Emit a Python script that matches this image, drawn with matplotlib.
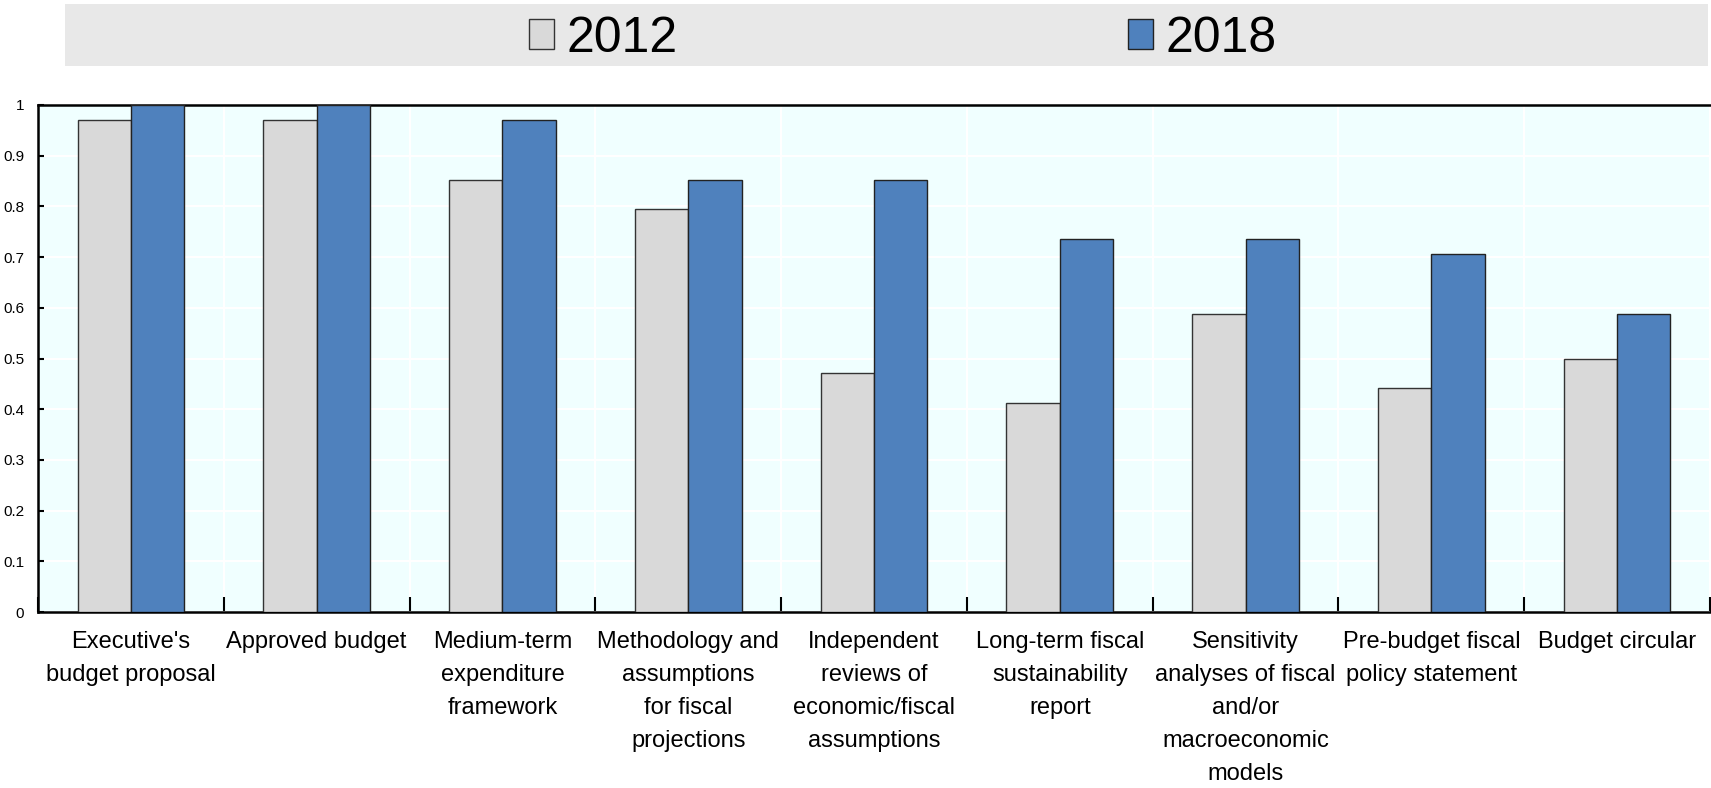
import matplotlib.pyplot as plt
import numpy as np
from matplotlib.patches import Rectangle

categories = ["Executive's\nbudget proposal", "Approved budget",
              "Medium-term\nexpenditure\nframework",
              "Methodology and\nassumptions\nfor fiscal\nprojections",
              "Independent\nreviews of\neconomic/fiscal\nassumptions",
              "Long-term fiscal\nsustainability\nreport",
              "Sensitivity\nanalyses of fiscal\nand/or\nmacroeconomic\nmodels",
              "Pre-budget fiscal\npolicy statement", "Budget circular"]
values_2012 = [0.97, 0.97, 0.853, 0.794, 0.471, 0.412, 0.588, 0.441, 0.5]
values_2018 = [1.0, 1.0, 0.97, 0.853, 0.853, 0.735, 0.735, 0.706, 0.588]
yticks = [0, 0.1, 0.2, 0.3, 0.4, 0.5, 0.6, 0.7, 0.8, 0.9, 1]
ytick_labels = ['0', '0.1', '0.2', '0.3', '0.4', '0.5', '0.6', '0.7', '0.8', '0.9', '1']

plt.rcParams['font.family'] = ['Liberation Sans', 'DejaVu Sans']

W, H = 1711, 788
fig = plt.figure(figsize=(W / 100, H / 100), dpi=100)
ax = fig.add_axes([38 / W, 1 - 612 / H, 1672 / W, 507 / H])
ax.set_facecolor('#F0FFFF')

x = np.arange(len(categories))
bw = 0.287
ax.bar(x - bw / 2, values_2012, bw, color='#D9D9D9', edgecolor='#333333', linewidth=1, label='2012', zorder=3)
ax.bar(x + bw / 2, values_2018, bw, color='#4F81BD', edgecolor='#222222', linewidth=1, label='2018', zorder=3)

ax.set_xlim(-0.5, len(categories) - 0.5)
ax.set_ylim(0, 1)
ax.set_yticks(yticks)
ax.set_yticklabels(ytick_labels, fontsize=11)
ax.set_xticks(x)
ax.set_xticklabels(categories, fontsize=17, linespacing=1.64)
ax.tick_params(axis='x', length=0, pad=14)
ax.set_xticks(np.arange(len(categories) + 1) - 0.5, minor=True)
ax.tick_params(axis='x', which='minor', direction='in', length=11, width=1.5, color='black')
ax.tick_params(axis='y', direction='in', length=4, width=1.5, pad=10)
ax.grid(axis='y', which='major', color='white', linewidth=1.5, zorder=0)
ax.grid(axis='x', which='minor', color='white', linewidth=1.5, zorder=0)
ax.grid(axis='x', which='major', visible=False)
ax.set_axisbelow(True)
for s in ['left', 'bottom', 'top']:
    ax.spines[s].set_linewidth(1.8)
ax.spines['right'].set_visible(False)

# legend band
fig.patches.append(Rectangle((65 / W, 1 - 65.5 / H), (1708 - 65) / W, 61 / H,
                             transform=fig.transFigure, facecolor='#E8E8E8',
                             edgecolor='none', zorder=0))
handles, labels = ax.get_legend_handles_labels()
fig.legend(handles, labels, loc='center', bbox_to_anchor=(903 / W, 1 - 39 / H),
           ncol=2, frameon=False, fontsize=36, columnspacing=9.0,
           handlelength=0.5, handleheight=0.55, handletextpad=0.25)

fig.savefig('out.png', dpi=100)
